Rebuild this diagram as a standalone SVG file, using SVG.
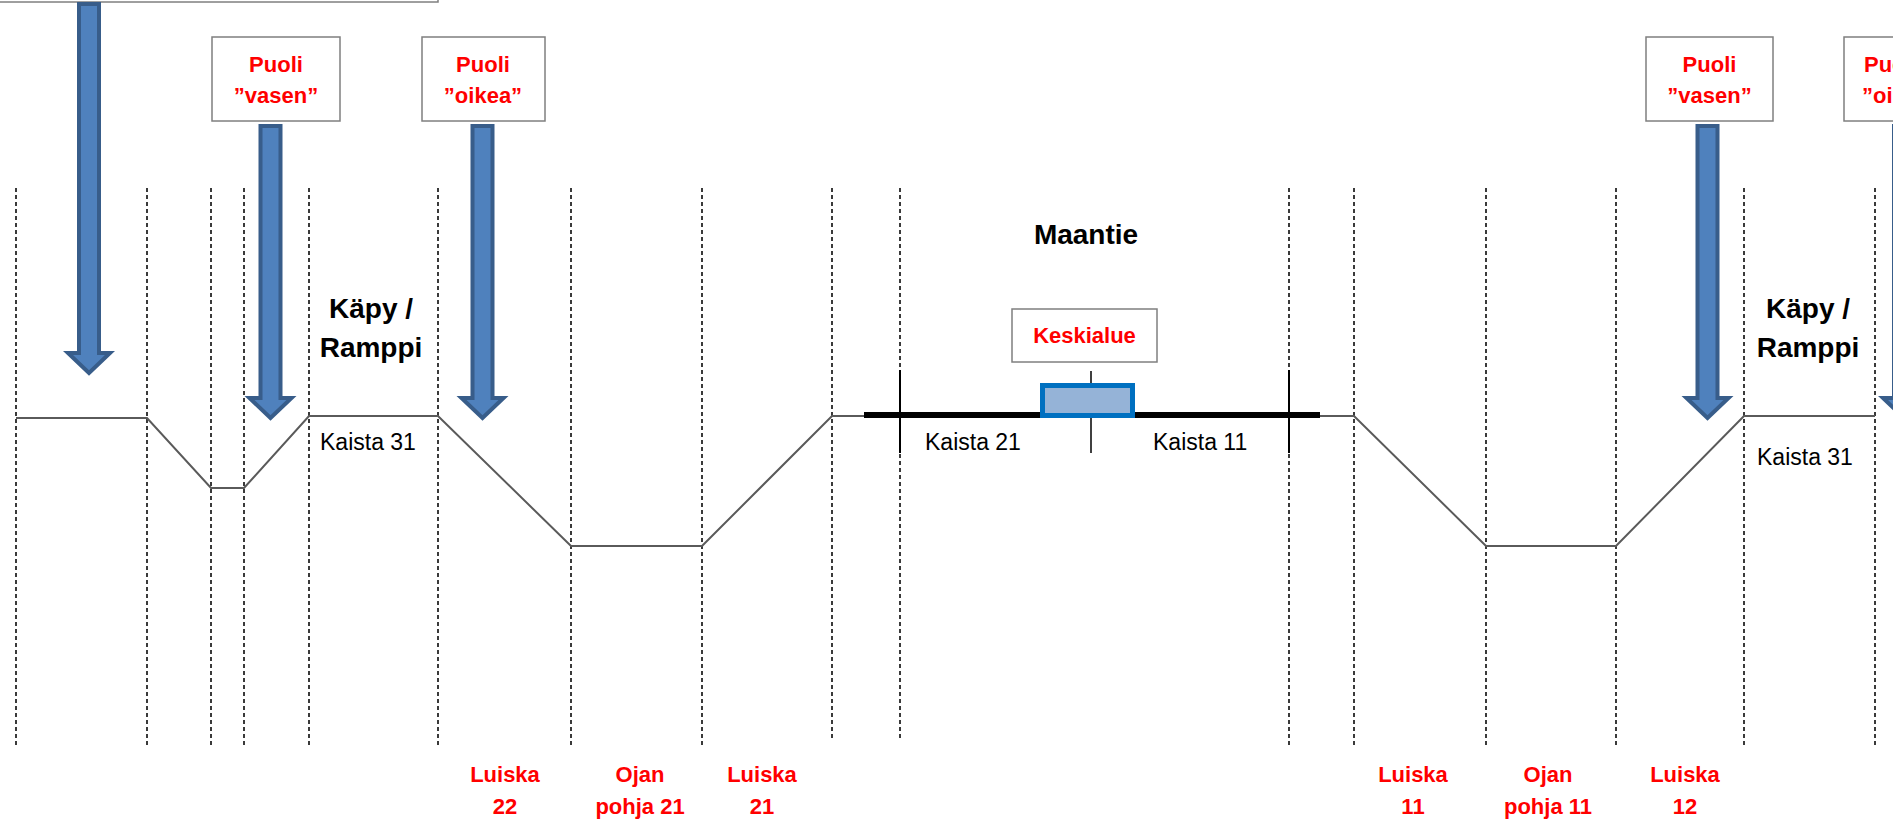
<svg xmlns="http://www.w3.org/2000/svg" width="1893" height="822" viewBox="0 0 1893 822">
<style>
.dash{stroke:#3a3a3a;stroke-width:2;stroke-dasharray:4 3;fill:none}
.prof{stroke:#5a5a5a;stroke-width:2;fill:none}
.box{fill:#fff;stroke:#7f7f7f;stroke-width:1.5}
.arrow{fill:#4F81BD;stroke:#385D8A;stroke-width:4;stroke-linejoin:miter}
.red{font-family:"Liberation Sans",Arial,sans-serif;font-weight:bold;font-size:22px;fill:#FF0000;text-anchor:middle}
.big{font-family:"Liberation Sans",Arial,sans-serif;font-weight:bold;font-size:28px;fill:#000;text-anchor:middle}
.lane{font-family:"Liberation Sans",Arial,sans-serif;font-size:23px;fill:#000}
</style>
<rect width="1893" height="822" fill="#fff"/>
<g id="gridlines">
<line class="dash" x1="16" y1="188" x2="16" y2="745"/>
<line class="dash" x1="147" y1="188" x2="147" y2="745"/>
<line class="dash" x1="211" y1="188" x2="211" y2="745"/>
<line class="dash" x1="244" y1="188" x2="244" y2="745"/>
<line class="dash" x1="309" y1="188" x2="309" y2="745"/>
<line class="dash" x1="438" y1="188" x2="438" y2="745"/>
<line class="dash" x1="571" y1="188" x2="571" y2="745"/>
<line class="dash" x1="702" y1="188" x2="702" y2="745"/>
<line class="dash" x1="832" y1="188" x2="832" y2="740"/>
<line class="dash" x1="900" y1="188" x2="900" y2="740"/>
<line class="dash" x1="1289" y1="188" x2="1289" y2="745"/>
<line class="dash" x1="1354" y1="188" x2="1354" y2="745"/>
<line class="dash" x1="1486" y1="188" x2="1486" y2="745"/>
<line class="dash" x1="1616" y1="188" x2="1616" y2="745"/>
<line class="dash" x1="1744" y1="188" x2="1744" y2="745"/>
<line class="dash" x1="1875" y1="188" x2="1875" y2="745"/>
</g>
<g id="profile">
<polyline class="prof" points="16,418 147,418 211,488 244,488 309,416 438,416 571,546 702,546 832,416 1354,416 1486,546 1616,546 1744,416 1875,416"/>
<line x1="864" y1="415" x2="1320" y2="415" stroke="#000" stroke-width="6"/>
<line x1="900" y1="370" x2="900" y2="453" stroke="#000" stroke-width="2"/>
<line x1="1289" y1="370" x2="1289" y2="453" stroke="#000" stroke-width="2"/>
<line x1="1091" y1="371" x2="1091" y2="453" stroke="#404040" stroke-width="2"/>
</g>
<g id="keskialue-marker">
<rect x="1042.5" y="385.5" width="90" height="30" fill="#95B3D7" stroke="#0070C0" stroke-width="5"/>
</g>
<g id="top-box">
<rect class="box" x="-10" y="-60" width="448" height="62"/>
</g>
<g id="connectors">
<polygon class="arrow" points="79,4 99,4 99,353 110,353 89,373 68,353 79,353"/>
<polygon class="arrow" points="260.5,126 280.5,126 280.5,398 291.5,398 270.5,418 249.5,398 260.5,398"/>
<polygon class="arrow" points="472.5,126 492.5,126 492.5,398 503.5,398 482.5,418 461.5,398 472.5,398"/>
<polygon class="arrow" points="1697.5,126 1717.5,126 1717.5,398 1728.5,398 1707.5,418 1686.5,398 1697.5,398"/>
<polygon class="arrow" points="1894,126 1914,126 1914,398 1925,398 1904,418 1883,398 1894,398"/>
</g>
<g id="puoli-vasen-1">
<rect class="box" x="212" y="37" width="128" height="84"/>
<text class="red" x="276" y="72">Puoli</text>
<text class="red" x="276" y="103">”vasen”</text>
</g>
<g id="puoli-oikea-1">
<rect class="box" x="422" y="37" width="123" height="84"/>
<text class="red" x="483" y="72">Puoli</text>
<text class="red" x="483" y="103">”oikea”</text>
</g>
<g id="puoli-vasen-2">
<rect class="box" x="1646" y="37" width="127" height="84"/>
<text class="red" x="1709.5" y="72">Puoli</text>
<text class="red" x="1709.5" y="103">”vasen”</text>
</g>
<g id="puoli-oikea-2">
<rect class="box" x="1844" y="37" width="128" height="84"/>
<text class="red" x="1864" y="72" style="text-anchor:start">Puoli</text>
<text class="red" x="1862" y="103" style="text-anchor:start">”oikea”</text>
</g>
<g id="kapy-1">
<text class="big" x="371" y="318">Käpy /</text>
<text class="big" x="371" y="357">Ramppi</text>
</g>
<g id="kapy-2">
<text class="big" x="1808" y="318">Käpy /</text>
<text class="big" x="1808" y="357">Ramppi</text>
</g>
<g id="maantie">
<text class="big" x="1086" y="244">Maantie</text>
</g>
<g id="keskialue">
<rect class="box" x="1012" y="309" width="145" height="53"/>
<text class="red" x="1084.5" y="343">Keskialue</text>
</g>
<g id="lanes">
<text class="lane" x="320" y="450">Kaista 31</text>
<text class="lane" x="925" y="450">Kaista 21</text>
<text class="lane" x="1153" y="450">Kaista 11</text>
<text class="lane" x="1757" y="465">Kaista 31</text>
</g>
<g id="bottom-labels">
<text class="red" x="505" y="782">Luiska</text>
<text class="red" x="505" y="814">22</text>
<text class="red" x="640" y="782">Ojan</text>
<text class="red" x="640" y="814">pohja 21</text>
<text class="red" x="762" y="782">Luiska</text>
<text class="red" x="762" y="814">21</text>
<text class="red" x="1413" y="782">Luiska</text>
<text class="red" x="1413" y="814">11</text>
<text class="red" x="1548" y="782">Ojan</text>
<text class="red" x="1548" y="814">pohja 11</text>
<text class="red" x="1685" y="782">Luiska</text>
<text class="red" x="1685" y="814">12</text>
</g>
</svg>
